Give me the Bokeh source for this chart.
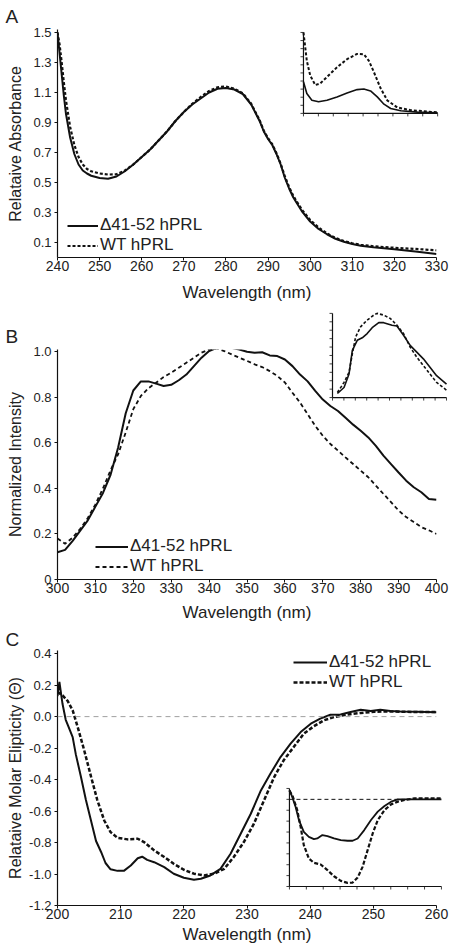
from bokeh.plotting import figure
from bokeh.models import Range1d, FixedTicker, Legend, LegendItem, Span
from bokeh.layouts import column
from bokeh.embed import file_html
from bokeh.resources import INLINE

# ---------------- data ----------------
LAB_MUT = "\u039441-52 hPRL"
LAB_WT = "WT hPRL"

# Panel A: absorbance
a_wl = [240, 240.5, 241, 241.5, 242, 243, 244, 245, 246, 247, 248, 250, 252, 254, 256, 258,
        260, 262, 264, 266, 268, 270, 272, 274, 276, 278, 280, 282, 284, 286, 288, 289, 290,
        291, 292, 293, 294, 295, 296, 298, 300, 302, 304, 306, 308, 310, 312, 315, 320, 325, 330]
a_mut = [1.50, 1.36, 1.22, 1.08, 0.96, 0.80, 0.69, 0.62, 0.58, 0.56, 0.545, 0.53, 0.525, 0.54,
         0.575, 0.62, 0.67, 0.72, 0.78, 0.84, 0.91, 0.97, 1.02, 1.06, 1.10, 1.125, 1.13, 1.12,
         1.09, 1.02, 0.91, 0.84, 0.79, 0.75, 0.69, 0.62, 0.53, 0.46, 0.40, 0.31, 0.24, 0.19,
         0.155, 0.125, 0.105, 0.09, 0.078, 0.068, 0.055, 0.04, 0.024]
a_wt = [1.50, 1.42, 1.30, 1.17, 1.05, 0.87, 0.75, 0.67, 0.62, 0.59, 0.575, 0.56, 0.553, 0.555,
        0.58, 0.62, 0.67, 0.72, 0.78, 0.84, 0.91, 0.97, 1.025, 1.07, 1.11, 1.135, 1.14, 1.125,
        1.095, 1.025, 0.915, 0.845, 0.795, 0.755, 0.695, 0.625, 0.54, 0.47, 0.41, 0.32, 0.25,
        0.20, 0.16, 0.13, 0.11, 0.095, 0.085, 0.075, 0.065, 0.057, 0.048]
a_xticks = [240, 250, 260, 270, 280, 290, 300, 310, 320, 330]
a_yticks = [0.1, 0.3, 0.5, 0.7, 0.9, 1.1, 1.3, 1.5]
a_ylabels = ["0.1", "0.3", "0.5", "0.7", "0.9", "1.1", "1.3", "1.5"]

ia_mut_x = [0, 0.225, 0.5625, 1.0125, 1.575, 2.25, 2.925, 3.6, 4.05, 4.5, 4.95, 5.4, 5.85, 6.525, 7.65, 9]
ia_mut = [0.39, 0.245, 0.163, 0.143, 0.163, 0.204, 0.253, 0.294, 0.302, 0.278, 0.204, 0.114,
          0.061, 0.033, 0.016, 0.008]
ia_wt_x = [0, 0.225, 0.45, 0.79, 1.125, 1.575, 2.25, 2.925, 3.6, 4.05, 4.39, 4.725, 5.175,
           5.625, 6.3, 7.2, 9]
ia_wt = [1.0, 0.65, 0.47, 0.35, 0.37, 0.45, 0.57, 0.67, 0.735, 0.73, 0.65, 0.51, 0.31, 0.16,
         0.073, 0.04, 0.012]
ia_xticks = [0, 1, 2, 3, 4, 5, 6, 7, 8, 9]
ia_yticks = [0, 0.1, 0.2, 0.3, 0.4, 0.5, 0.6, 0.7, 0.8, 0.9, 1.0]

# Panel B: fluorescence
b_wl = [300, 302, 304, 306, 308, 310, 312, 314, 316, 318, 320, 322, 324, 326, 328, 330, 332,
        334, 336, 338, 340, 342, 344, 346, 348, 350, 352, 354, 356, 358, 360, 362, 364, 366,
        368, 370, 372, 374, 376, 378, 380, 382, 384, 386, 388, 390, 392, 394, 396, 398, 400]
b_mut = [0.12, 0.13, 0.17, 0.215, 0.26, 0.32, 0.38, 0.46, 0.58, 0.73, 0.83, 0.87, 0.87, 0.86,
         0.85, 0.855, 0.875, 0.90, 0.937, 0.974, 1.003, 1.017, 1.017, 1.017, 1.01, 1.0, 0.996,
         0.998, 0.984, 0.981, 0.966, 0.937, 0.90, 0.87, 0.828, 0.79, 0.762, 0.74, 0.71, 0.68,
         0.653, 0.624, 0.587, 0.544, 0.507, 0.47, 0.434, 0.405, 0.383, 0.354, 0.35]
b_wt = [0.18, 0.157, 0.184, 0.223, 0.27, 0.33, 0.40, 0.48, 0.55, 0.646, 0.748, 0.806, 0.84,
        0.864, 0.889, 0.908, 0.93, 0.952, 0.974, 0.996, 1.01, 1.015, 1.003, 0.988, 0.974, 0.96,
        0.945, 0.933, 0.915, 0.894, 0.865, 0.82, 0.777, 0.726, 0.675, 0.631, 0.595, 0.566,
        0.536, 0.507, 0.478, 0.449, 0.412, 0.376, 0.34, 0.303, 0.274, 0.252, 0.23, 0.216, 0.20]
b_xticks = [300, 310, 320, 330, 340, 350, 360, 370, 380, 390, 400]
b_yticks = [0, 0.2, 0.4, 0.6, 0.8, 1.0]
b_ylabels = ["0", "0.2", "0.4", "0.6", "0.8", "1.0"]

ib_mut_x = [0.43, 1.01, 1.45, 1.74, 2.17, 2.61, 3.04, 3.48, 4.06, 4.49, 5.22, 5.65, 6.23, 6.81,
            7.39, 7.97, 8.55, 9.13, 10]
ib_mut = [0.048, 0.12, 0.28, 0.56, 0.68, 0.71, 0.76, 0.83, 0.89, 0.89, 0.86, 0.85, 0.74, 0.62,
          0.54, 0.46, 0.36, 0.26, 0.16]
ib_wt_x = [0.43, 1.01, 1.45, 1.74, 2.03, 2.46, 3.04, 3.62, 3.91, 4.49, 5.07, 5.65, 6.23, 6.81,
           7.39, 7.97, 8.55, 9.13, 10]
ib_wt = [0.06, 0.18, 0.30, 0.52, 0.72, 0.84, 0.92, 0.98, 1.0, 0.98, 0.94, 0.86, 0.76, 0.60,
         0.48, 0.38, 0.28, 0.18, 0.088]
ib_xticks = [0, 1, 2, 3, 4, 5, 6, 7, 8, 9, 10]
ib_yticks = [0, 0.1, 0.2, 0.3, 0.4, 0.5, 0.6, 0.7, 0.8, 0.9, 1.0]

# Panel C: circular dichroism
c_mut_wl = [200, 200.3, 200.8, 201.3, 201.8, 202.4, 202.9, 203.7, 204.5, 205.3, 206.1, 206.9,
            207.6, 208.4, 209.5, 210.5, 211.6, 212.7, 213.4, 214.2, 215.3, 216.9, 218.4, 220,
            221.6, 222.7, 224.2, 225.8, 227.4, 229, 230.6, 232.2, 233.7, 235.3, 236.9, 238.5,
            240.1, 241.6, 243.2, 244.8, 246.4, 248, 249.6, 251.1, 252.7, 254.3, 256.9, 260]
c_mut = [0.13, 0.22, 0.08, -0.02, -0.07, -0.13, -0.24, -0.38, -0.53, -0.66, -0.79, -0.86, -0.93,
         -0.97, -0.98, -0.98, -0.946, -0.90, -0.89, -0.91, -0.925, -0.956, -0.998, -1.024,
         -1.036, -1.03, -1.009, -0.967, -0.871, -0.744, -0.617, -0.469, -0.363, -0.257, -0.172,
         -0.098, -0.045, -0.013, 0.012, 0.014, 0.029, 0.044, 0.036, 0.044, 0.036, 0.033, 0.031,
         0.027]
c_wt_wl = [200, 200.8, 201.6, 202.4, 203.2, 204.2, 205.3, 206.3, 207.4, 208.4, 209.5, 211.1,
           212.7, 213.7, 215.3, 216.9, 218.4, 220, 221.6, 223.2, 224.8, 226.4, 227.9, 229.5,
           231.1, 232.7, 234.3, 235.8, 237.4, 239, 240.6, 242.2, 243.8, 245.9, 248, 250.1,
           252.2, 254.3, 256.9, 260]
c_wt = [0.156, 0.135, 0.10, 0.04, -0.067, -0.21, -0.38, -0.53, -0.66, -0.734, -0.77, -0.78,
        -0.776, -0.797, -0.85, -0.892, -0.935, -0.973, -0.998, -1.009, -0.998, -0.967, -0.892,
        -0.797, -0.68, -0.532, -0.384, -0.278, -0.193, -0.108, -0.061, -0.023, -0.003, 0.014,
        0.023, 0.031, 0.033, 0.031, 0.029, 0.029]
c_xticks = [200, 210, 220, 230, 240, 250, 260]
c_yticks = [-1.2, -1.0, -0.8, -0.6, -0.4, -0.2, 0.0, 0.2, 0.4]
c_ylabels = ["-1.2", "-1.0", "-0.8", "-0.6", "-0.4", "-0.2", "0.0", "0.2", "0.4"]

ic_mut_x = [0, 0.16, 0.36, 0.56, 0.85, 1.15, 1.45, 1.65, 1.95, 2.25, 2.64, 3.04, 3.44, 3.74,
            4.04, 4.43, 4.83, 5.23, 5.63, 6.02, 6.42, 7.02, 9]
ic_mut = [0.86, 0.25, -0.67, -1.9, -2.98, -3.44, -3.65, -3.59, -3.28, -3.37, -3.59, -3.74, -3.8,
          -3.8, -3.59, -2.82, -1.9, -1.13, -0.61, -0.21, 0.0, 0.0, 0.0]
ic_wt_x = [0, 0.2, 0.46, 0.66, 0.85, 1.15, 1.45, 1.85, 2.25, 2.64, 3.04, 3.44, 3.74, 4.04, 4.33,
           4.63, 4.93, 5.23, 5.63, 6.02, 6.42, 6.82, 7.42, 9]
ic_wt = [0.8, 0.25, -0.98, -2.5, -4.2, -5.43, -5.83, -5.98, -6.5, -7.06, -7.48, -7.67, -7.64,
         -7.18, -6.2, -4.66, -3.13, -1.9, -0.98, -0.46, -0.21, -0.06, 0.09, 0.09]
ic_xticks = [0, 1, 2, 3, 4, 5, 6, 7, 8, 9]
ic_yticks = [-8, -7, -6, -5, -4, -3, -2, -1, 0, 1]

# ---------------- layout / style ----------------
W = 450
ML, MR = 57, 14
FW = W - ML - MR
FONT = "Liberation Sans"
INK = "#111111"
TXT = "#222222"


def make_panel(height, top, bottom, xr, yr, xticks, yticks, ylabels, ytitle,
               letter, letter_standoff, x_title_standoff, y_title_standoff):
    p = figure(width=W, height=height, x_range=Range1d(*xr), y_range=Range1d(*yr),
               output_backend="svg", toolbar_location=None,
               min_border_left=ML, min_border_right=MR,
               min_border_top=top, min_border_bottom=bottom)
    p.outline_line_color = None
    p.xgrid.visible = False
    p.ygrid.visible = False
    p.background_fill_color = "white"
    p.border_fill_color = "white"
    p.title.text = letter
    p.title.text_font = FONT
    p.title.text_font_size = "19px"
    p.title.text_font_style = "normal"
    p.title.text_color = TXT
    p.title.align = "left"
    p.title.offset = -(ML - 5)
    p.title.standoff = letter_standoff
    for ax in (p.xaxis[0], p.yaxis[0]):
        ax.axis_line_color = INK
        ax.axis_line_width = 1.2
        ax.major_tick_line_color = INK
        ax.major_tick_line_width = 1
        ax.major_tick_in = 0
        ax.major_tick_out = 3
        ax.minor_tick_line_color = None
        ax.major_label_text_font = FONT
        ax.major_label_text_color = TXT
        ax.axis_label_text_font = FONT
        ax.axis_label_text_color = TXT
        ax.axis_label_text_font_style = "normal"
    xa = p.xaxis[0]
    ya = p.yaxis[0]
    xa.ticker = FixedTicker(ticks=xticks)
    ya.ticker = FixedTicker(ticks=yticks)
    ya.major_label_overrides = {float(t): s for t, s in zip(yticks, ylabels)}
    xa.major_label_text_font_size = "14px"
    ya.major_label_text_font_size = "13px"
    xa.major_label_standoff = 0
    ya.major_label_standoff = 3
    xa.axis_label = "Wavelength (nm)"
    ya.axis_label = ytitle
    xa.axis_label_text_font_size = "17px"
    ya.axis_label_text_font_size = "16px"
    xa.axis_label_standoff = x_title_standoff
    ya.axis_label_standoff = y_title_standoff
    return p


def add_legend(p, r_mut, r_wt, loc, gw, rowh):
    leg = Legend(items=[LegendItem(label=LAB_MUT, renderers=[r_mut]),
                        LegendItem(label=LAB_WT, renderers=[r_wt])],
                 location=loc, orientation="vertical", glyph_width=gw, glyph_height=rowh,
                 label_height=rowh, label_standoff=2, spacing=0, padding=0, margin=0,
                 border_line_color=None, background_fill_alpha=0,
                 label_text_font=FONT, label_text_font_size="17px", label_text_color=TXT)
    p.add_layout(leg)


def add_inset(p, fh, name, xr, yr, fx, fy, xticks, yticks, series, zero=False):
    (x0, x1), (y0, y1) = xr, yr
    sx = (x1 - x0) / (fx[1] - fx[0])
    xs = x0 - fx[0] * sx
    sy = (y1 - y0) / (fy[1] - fy[0])
    ys = y0 - fy[0] * sy
    xn, yn = name + "_x", name + "_y"
    p.extra_x_ranges[xn] = Range1d(xs, xs + sx)
    p.extra_y_ranges[yn] = Range1d(ys, ys + sy)
    dpx_x = sx / FW
    dpx_y = sy / fh
    kw = dict(x_range_name=xn, y_range_name=yn, level="overlay")
    p.segment(x0=[x0, x0], y0=[y0, y0], x1=[x1, x0], y1=[y0, y1],
              line_color=INK, line_width=1.2, **kw)
    p.segment(x0=list(xticks), y0=[y0] * len(xticks), x1=list(xticks),
              y1=[y0 - 3 * dpx_y] * len(xticks), line_color=INK, line_width=0.8, **kw)
    p.segment(x0=[x0] * len(yticks), y0=list(yticks), x1=[x0 - 3 * dpx_x] * len(yticks),
              y1=list(yticks), line_color=INK, line_width=0.8, **kw)
    if zero:
        p.line([x0, x1], [0, 0], line_color=INK, line_width=1, line_dash="4 3", **kw)
    for (sxv, syv, dash, lw) in series:
        p.line(sxv, syv, line_color=INK, line_width=lw, line_dash=dash, **kw)


# ---------------- Panel A ----------------
A_H, A_T, A_B = 305, 29, 48
A_FH = A_H - A_T - A_B
pA = make_panel(A_H, A_T, A_B, (240, 330), (0, 1.52), a_xticks, a_yticks, a_ylabels,
                "Relataive Absorbance", "A", 5, 9, 6)
rA1 = pA.line(a_wl, a_mut, line_color=INK, line_width=2)
rA2 = pA.line(a_wl, a_wt, line_color=INK, line_width=2.2, line_dash="3 2")
add_legend(pA, rA1, rA2, (10, 2), 31, 19)
add_inset(pA, A_FH, "ia", (0, 9), (0, 1.0), (0.649, 1.003), (0.632, 0.987), ia_xticks, ia_yticks,
          [(ia_mut_x, ia_mut, "solid", 1.6), (ia_wt_x, ia_wt, "3 2", 2)])

# ---------------- Panel B ----------------
B_H, B_T, B_B = 320, 44, 46
B_FH = B_H - B_T - B_B
pB = make_panel(B_H, B_T, B_B, (300, 400), (0, 1.01), b_xticks, b_yticks, b_ylabels,
                "Normalized Intensity", "B", 6, 7, 6)
rB1 = pB.line(b_wl, b_mut, line_color=INK, line_width=2)
rB2 = pB.line(b_wl, b_wt, line_color=INK, line_width=1.8, line_dash="4 3")
add_legend(pB, rB1, rB2, (38, 3), 33, 19)
add_inset(pB, B_FH, "ib", (0, 10), (0, 1.0), (0.7256, 1.0264), (0.791, 1.157), ib_xticks, ib_yticks,
          [(ib_mut_x, ib_mut, "solid", 1.6), (ib_wt_x, ib_wt, "3 2", 1.6)])

# ---------------- Panel C ----------------
C_H, C_T, C_B = 323, 25, 43
C_FH = C_H - C_T - C_B
pC = make_panel(C_H, C_T, C_B, (200, 260), (-1.2, 0.42), c_xticks, c_yticks, c_ylabels,
                "Relataive Molar Elipticity (\u0398)", "C", 2, 3, 2)
pC.add_layout(Span(location=0, dimension="width", line_color="#a0a0a0", line_width=1,
                   line_dash="5 4"))
rC1 = pC.line(c_mut_wl, c_mut, line_color=INK, line_width=2)
rC2 = pC.line(c_wt_wl, c_wt, line_color=INK, line_width=2.5, line_dash="4 2")
add_legend(pC, rC1, rC2, (236, 213), 34, 18)
add_inset(pC, C_FH, "ic", (0, 9), (-8, 1), (0.612, 1.013), (0.0745, 0.459), ic_xticks, ic_yticks,
          [(ic_mut_x, ic_mut, "solid", 1.8), (ic_wt_x, ic_wt, "4 2", 2.2)], zero=True)

layout = column(pA, pB, pC, spacing=0)
open("out.html", "w").write(file_html(layout, INLINE))
